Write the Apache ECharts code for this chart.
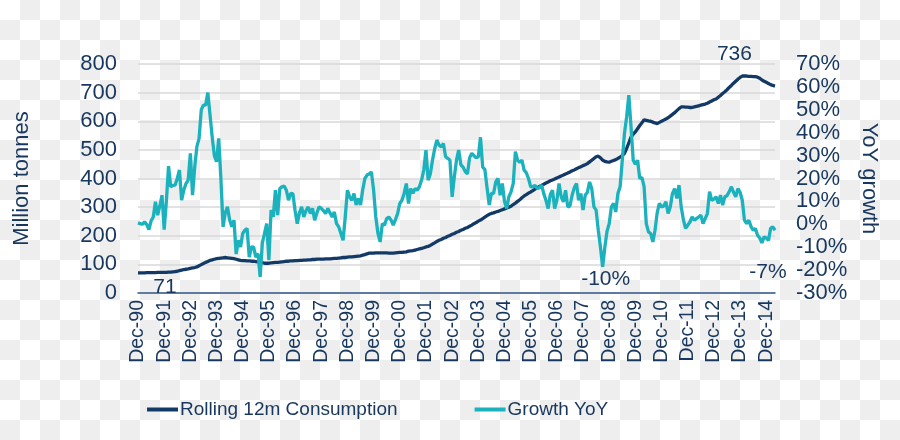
<!DOCTYPE html>
<html>
<head>
<meta charset="utf-8">
<script src="https://cdn.jsdelivr.net/npm/echarts@6/dist/echarts.min.js"></script>
<style>
html,body{margin:0;padding:0;}
body{width:900px;height:440px;background-color:#fff;
background-image:conic-gradient(#eeeeee 25%, #ffffff 0 50%, #eeeeee 0 75%, #ffffff 0);
background-size:40px 40px;}
#c{width:900px;height:440px;}
</style>
</head>
<body>
<div id="c"></div>
<script>
// Monthly, Dec-90 .. Apr-15
const monthNames = ['Jan','Feb','Mar','Apr','May','Jun','Jul','Aug','Sep','Oct','Nov','Dec'];
const startYear = 1990, startMonth = 11, nPoints = 293;

// Rolling 12m Consumption (Million tonnes)
const consumption = [
70,70,70,70,71,71,71,71,71,72,72,72,72,
72,73,73,74,75,76,78,80,82,83,84,86,
88,89,91,95,99,103,107,110,114,116,118,120,
121,122,123,124,123,122,121,120,118,116,114,113,
113,112,112,111,111,110,109,107,106,104,104,104,
105,106,107,107,108,109,110,111,111,112,112,113,
113,114,114,115,115,116,116,117,117,118,118,118,
118,119,119,119,120,121,121,122,123,124,124,125,
126,126,127,128,129,130,132,134,137,139,139,139,
140,140,140,140,140,140,139,139,139,140,141,142,
142,143,144,146,147,148,150,152,154,156,158,161,
163,166,171,175,180,184,187,191,194,198,201,205,
208,212,215,219,222,226,229,233,237,242,246,251,
255,260,265,270,275,278,280,283,285,288,291,294,
297,300,303,309,314,320,326,333,339,344,349,353,
358,363,368,372,376,380,384,388,392,395,398,402,
405,409,412,416,419,423,427,430,434,438,441,445,
448,452,458,464,470,476,478,472,464,460,458,457,
460,463,466,470,475,480,488,505,525,545,555,563,
574,585,595,605,603,601,600,597,594,592,596,600,
604,608,612,618,624,630,637,644,650,650,649,649,
648,648,650,652,654,656,658,660,663,667,671,675,
678,684,690,697,703,710,718,725,733,740,747,753,
758,758,758,757,757,756,756,754,750,744,740,736,
732,728,725,723
];

// Growth YoY (%)
const growth = [
0.6,0.3,0,1,0,-2.3,1.5,3.2,9.8,4,8,12.7,
-2.3,10,25.4,16.4,17,17.1,20,23.7,10.5,15,17.8,19.3,
31,12.7,25,33.9,37.5,50,52,52,57.5,48,38.2,30,
27.3,37.5,20,-1.1,5,7.6,2,-1.1,1.8,-13,-7,-9.9,
-4,-2.6,-1.8,-14.3,-9.9,-10,-14.3,-12.8,-23,-8,-4,0.3,
-15.7,6.2,3.2,14.9,4,15.6,16.4,16.7,14.9,10.5,13.5,13.4,
6,0.3,5,7.6,3.2,6,7.6,4.7,7,1.8,5,7.6,
7,6,4.7,7,5,3.2,5.4,0.3,-1.1,-4,-7,3.2,
14.9,12,10.5,13.4,8.4,11.3,8.4,15,20,21.5,22,22.9,
14.9,3.2,-4,-7.7,0.3,-0.4,2.5,3.2,1.8,-0.4,2,4.7,
9.1,10.5,13.5,17.8,9.1,15.6,13.5,15.6,14.9,16.4,19.3,23.7,
32.4,19.3,22,28,33,36.8,34.6,33.8,35.3,29.5,28.8,28,
12,20.7,28,32.4,26,25,23,22,29,31,30,29,
29.5,38,25,24,16,8.4,13.5,13.5,18.5,20,12.7,17.8,
10,6.9,12,14.2,17.8,31.7,28,27,28,23.7,22.5,20,
16.4,16.4,17,15.6,16,17.1,13.4,10.5,6.9,13,14.9,6.9,
10.5,17.8,12,9.8,14.9,7.6,8,12.7,16,17.8,10.5,13.5,
6.2,12.7,14,18.5,15.6,7.6,6.2,-2.6,-10,-18.6,-10,-3,
0.3,7.6,9.1,5.4,13.5,16.4,28,39.7,47,56.4,42.6,28,
26.2,28,20,20.5,16.4,0.3,-3.3,-4,-7.7,-2.6,5,9.1,
7.6,8,9.8,4.7,7.6,13.5,15.6,11.3,17.1,7.6,2,-1.8,
-0.4,1,3.2,1.8,2.5,3.2,4,0.3,2.5,4.7,14.2,10.5,
11,12,9.1,12.7,8.4,12,12.5,14.2,16.4,14,12,15.6,
14,10.5,1.8,0.3,1.8,-1,-2.6,-1.8,-4.8,-6,-8.1,-5.5,
-6,-7,-1.8,-1.1,-2.6
];

// Annotations
const consLabels = [{idx:0, text:'71'}, {idx:278, text:'736'}];
const growthLabels = [{idx:213, text:'-10%'}, {idx:286, text:'-7%'}];

const seriesNames = ['Rolling 12m Consumption', 'Growth YoY'];
const leftTicks = {min:0, max:800, interval:100};
const rightTicks = {min:-30, max:70, interval:10};

const categories = [];
for (let k = 0; k < nPoints; k++) {
  const m = (startMonth + k) % 12;
  const y = startYear + Math.floor((startMonth + k) / 12);
  categories.push(monthNames[m] + '-' + String(y % 100).padStart(2, '0'));
}

const TXT = '#17375e';
const NAVY = '#133a66';
const TEAL = '#1bb1bd';
const FONT = '"Liberation Sans", Arial, sans-serif';

const chart = echarts.init(document.getElementById('c'), null, {renderer:'canvas'});
chart.setOption({
  backgroundColor: 'transparent',
  animation: false,
  textStyle: {fontFamily: FONT, color: TXT},
  grid: {left:138, right:125, top:64, bottom:147, containLabel:false},
  legend: {
    left: 142, top: 395, itemWidth: 31, itemHeight: 4, itemGap: 77,
    icon: 'rect',
    textStyle: {fontSize: 19, color: TXT, fontFamily: FONT, padding:[0,0,0,-3]},
    data: seriesNames
  },
  xAxis: {
    type: 'category', data: categories, boundaryGap: false,
    axisLine: {show:true, lineStyle:{color:'#36598a', width:1.5}},
    axisTick: {show:false},
    axisLabel: {interval: 11, rotate: 90, fontSize: 19.5, color: TXT, fontFamily: FONT, margin: 7},
    splitLine: {show:false}
  },
  yAxis: [
    {
      type:'value', min:leftTicks.min, max:leftTicks.max, interval:leftTicks.interval,
      name:'Million tonnes', nameLocation:'middle', nameGap:105, nameRotate:90,
      nameTextStyle:{fontSize:22, color:TXT, fontFamily:FONT},
      axisLine:{show:false}, axisTick:{show:false},
      axisLabel:{fontSize:22, color:TXT, margin:21, fontFamily:FONT},
      splitLine:{show:true, lineStyle:{color:'#d9d9d9', width:1.5}}
    },
    {
      type:'value', min:rightTicks.min, max:rightTicks.max, interval:rightTicks.interval,
      name:'YoY growth', nameLocation:'middle', nameGap:82, nameRotate:-90,
      nameTextStyle:{fontSize:22, color:TXT, fontFamily:FONT},
      axisLine:{show:false}, axisTick:{show:false},
      axisLabel:{fontSize:22, color:TXT, margin:21, fontFamily:FONT, formatter:'{value}%'},
      splitLine:{show:false}
    }
  ],
  series: [
    {
      name: seriesNames[0], type:'line', yAxisIndex:0, data: consumption,
      showSymbol:false, symbol:'none', lineStyle:{color:NAVY, width:3.3}, itemStyle:{color:NAVY},
      markPoint: {
        symbol:'circle', symbolSize:0, silent:true,
        data: [
          {coord:[consLabels[0].idx, consumption[consLabels[0].idx]], label:{show:true, formatter:consLabels[0].text, offset:[27,14], fontSize:21, color:TXT, fontFamily:FONT}},
          {coord:[consLabels[1].idx, consumption[consLabels[1].idx]], label:{show:true, formatter:consLabels[1].text, offset:[-10,-22], fontSize:21, color:TXT, fontFamily:FONT}}
        ]
      }
    },
    {
      name: seriesNames[1], type:'line', yAxisIndex:1, data: growth,
      showSymbol:false, symbol:'none', lineStyle:{color:TEAL, width:3.3}, itemStyle:{color:TEAL},
      markPoint: {
        symbol:'circle', symbolSize:0, silent:true,
        data: [
          {coord:[growthLabels[0].idx, growth[growthLabels[0].idx]], label:{show:true, formatter:growthLabels[0].text, offset:[3,12], fontSize:21, color:TXT, fontFamily:FONT}},
          {coord:[growthLabels[1].idx, growth[growthLabels[1].idx]], label:{show:true, formatter:growthLabels[1].text, offset:[6,29], fontSize:21, color:TXT, fontFamily:FONT}}
        ]
      }
    }
  ]
});
</script>
</body>
</html>
